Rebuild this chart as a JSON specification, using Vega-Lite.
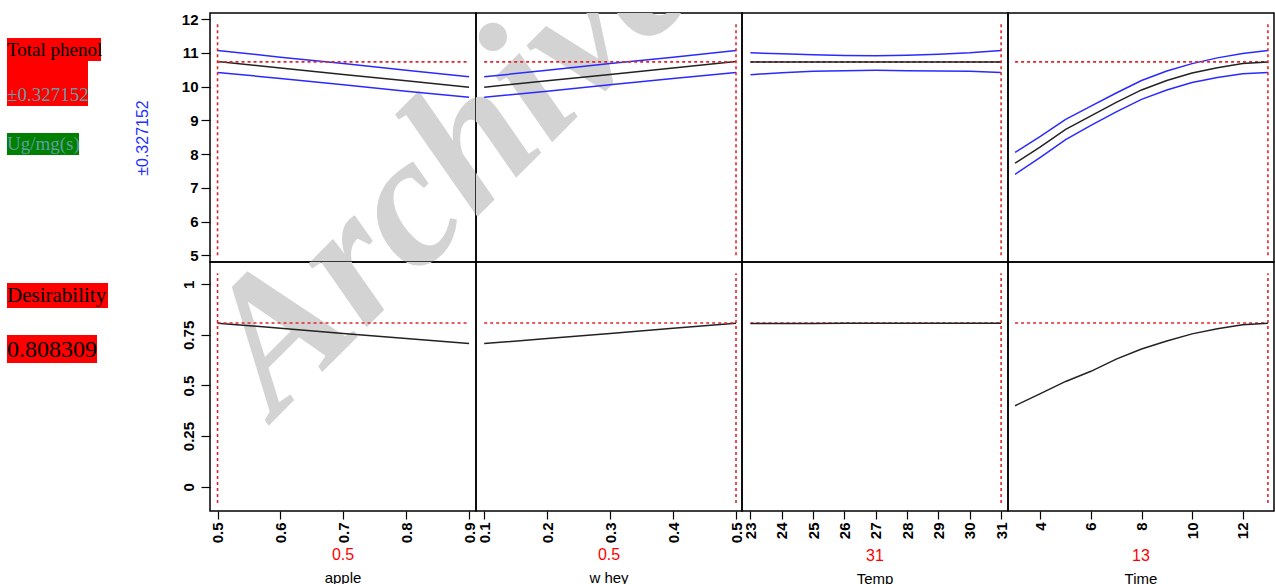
{
  "$schema": "https://vega.github.io/schema/vega-lite/v6.json",
  "padding": {"left": 0, "top": 11, "right": 0, "bottom": 0},
  "background": "white",
  "columns": 5,
  "spacing": 0,
  "bounds": "flush",
  "align": "each",
  "datasets": {
    "prof": [
      {"f": "apple", "lv": 0.5, "pr": 10.74, "lo": 10.42, "hi": 11.07, "d": 0.808},
      {"f": "apple", "lv": 0.6, "pr": 10.55, "lo": 10.24, "hi": 10.87, "d": 0.783},
      {"f": "apple", "lv": 0.7, "pr": 10.36, "lo": 10.05, "hi": 10.68, "d": 0.757},
      {"f": "apple", "lv": 0.8, "pr": 10.17, "lo": 9.86, "hi": 10.48, "d": 0.732},
      {"f": "apple", "lv": 0.9, "pr": 9.98, "lo": 9.68, "hi": 10.29, "d": 0.707},
      {"f": "whey", "lv": 0.1, "pr": 9.98, "lo": 9.68, "hi": 10.29, "d": 0.707},
      {"f": "whey", "lv": 0.2, "pr": 10.17, "lo": 9.86, "hi": 10.48, "d": 0.732},
      {"f": "whey", "lv": 0.3, "pr": 10.36, "lo": 10.05, "hi": 10.68, "d": 0.757},
      {"f": "whey", "lv": 0.4, "pr": 10.55, "lo": 10.24, "hi": 10.87, "d": 0.783},
      {"f": "whey", "lv": 0.5, "pr": 10.74, "lo": 10.42, "hi": 11.07, "d": 0.808},
      {"f": "Temp", "lv": 23, "pr": 10.73, "lo": 10.35, "hi": 11.0, "d": 0.806},
      {"f": "Temp", "lv": 24, "pr": 10.73, "lo": 10.41, "hi": 10.97, "d": 0.806},
      {"f": "Temp", "lv": 25, "pr": 10.73, "lo": 10.45, "hi": 10.94, "d": 0.806},
      {"f": "Temp", "lv": 26, "pr": 10.73, "lo": 10.47, "hi": 10.92, "d": 0.807},
      {"f": "Temp", "lv": 27, "pr": 10.73, "lo": 10.48, "hi": 10.91, "d": 0.807},
      {"f": "Temp", "lv": 28, "pr": 10.73, "lo": 10.47, "hi": 10.93, "d": 0.807},
      {"f": "Temp", "lv": 29, "pr": 10.73, "lo": 10.46, "hi": 10.96, "d": 0.808},
      {"f": "Temp", "lv": 30, "pr": 10.73, "lo": 10.45, "hi": 11.0, "d": 0.808},
      {"f": "Temp", "lv": 31, "pr": 10.73, "lo": 10.42, "hi": 11.07, "d": 0.808},
      {"f": "Time", "lv": 3, "pr": 7.73, "lo": 7.4, "hi": 8.05, "d": 0.4},
      {"f": "Time", "lv": 4, "pr": 8.21, "lo": 7.9, "hi": 8.52, "d": 0.46},
      {"f": "Time", "lv": 5, "pr": 8.73, "lo": 8.43, "hi": 9.03, "d": 0.52},
      {"f": "Time", "lv": 6, "pr": 9.13, "lo": 8.85, "hi": 9.42, "d": 0.57},
      {"f": "Time", "lv": 7, "pr": 9.53, "lo": 9.25, "hi": 9.81, "d": 0.63},
      {"f": "Time", "lv": 8, "pr": 9.9, "lo": 9.62, "hi": 10.18, "d": 0.68},
      {"f": "Time", "lv": 9, "pr": 10.18, "lo": 9.9, "hi": 10.46, "d": 0.72},
      {"f": "Time", "lv": 10, "pr": 10.4, "lo": 10.12, "hi": 10.68, "d": 0.755},
      {"f": "Time", "lv": 11, "pr": 10.56, "lo": 10.27, "hi": 10.85, "d": 0.78},
      {"f": "Time", "lv": 12, "pr": 10.68, "lo": 10.38, "hi": 10.98, "d": 0.8},
      {"f": "Time", "lv": 13, "pr": 10.73, "lo": 10.42, "hi": 11.07, "d": 0.808}
    ],
    "cur": [
      {"f": "apple", "lv": 0.5, "mn": 0.5, "mx": 0.9, "ph": 10.73, "d": 0.808309},
      {"f": "whey", "lv": 0.5, "mn": 0.1, "mx": 0.5, "ph": 10.73, "d": 0.808309},
      {"f": "Temp", "lv": 31, "mn": 23, "mx": 31, "ph": 10.73, "d": 0.808309},
      {"f": "Time", "lv": 13, "mn": 3, "mx": 13, "ph": 10.73, "d": 0.808309}
    ],
    "labels": [
      {"k": "resp", "label": "Total phenol"},
      {"k": "ci", "label": "±0.327152"},
      {"k": "unit", "label": "Ug/mg(s)"},
      {"k": "des", "label": "Desirability"},
      {"k": "desv", "label": "0.808309"}
    ],
    "wm": [{"w": "Archive"}]
  },
  "concat": [
    {
      "width": 210, "height": 249, "view": {"stroke": null},
      "layer": [
        {"data": {"name": "labels"}, "transform": [{"filter": "datum.k==='resp'"}], "mark": {"type": "rect", "color": "#ff0000"},
         "encoding": {"x": {"datum": 7, "type": "quantitative", "scale": {"domain": [0, 210], "nice": false, "zero": false}, "axis": null}, "x2": {"datum": 101},
                      "y": {"datum": 25, "type": "quantitative", "scale": {"domain": [0, 249], "reverse": true, "nice": false, "zero": false}, "axis": null}, "y2": {"datum": 48}}},
        {"data": {"name": "labels"}, "transform": [{"filter": "datum.k==='ci'"}], "mark": {"type": "rect", "color": "#ff0000"},
         "encoding": {"x": {"datum": 7, "type": "quantitative", "axis": null}, "x2": {"datum": 88}, "y": {"datum": 47, "type": "quantitative", "axis": null}, "y2": {"datum": 93}}},
        {"data": {"name": "labels"}, "transform": [{"filter": "datum.k==='unit'"}], "mark": {"type": "rect", "color": "#008000"},
         "encoding": {"x": {"datum": 7, "type": "quantitative", "axis": null}, "x2": {"datum": 79}, "y": {"datum": 120, "type": "quantitative", "axis": null}, "y2": {"datum": 142}}},
        {"data": {"name": "labels"}, "transform": [{"filter": "datum.k==='resp'"}], "mark": {"type": "text", "font": "Liberation Serif", "fontSize": 19, "color": "#000000", "align": "left", "baseline": "middle"},
         "encoding": {"text": {"field": "label"}, "x": {"datum": 7, "type": "quantitative", "axis": null}, "y": {"datum": 37, "type": "quantitative", "axis": null}}},
        {"data": {"name": "labels"}, "transform": [{"filter": "datum.k==='ci'"}], "mark": {"type": "text", "font": "Liberation Serif", "fontSize": 19, "color": "#5f9ea0", "align": "left", "baseline": "middle"},
         "encoding": {"text": {"field": "label"}, "x": {"datum": 7, "type": "quantitative", "axis": null}, "y": {"datum": 82, "type": "quantitative", "axis": null}}},
        {"data": {"name": "labels"}, "transform": [{"filter": "datum.k==='unit'"}], "mark": {"type": "text", "font": "Liberation Serif", "fontSize": 19, "color": "#5f9ea0", "align": "left", "baseline": "middle"},
         "encoding": {"text": {"field": "label"}, "x": {"datum": 7, "type": "quantitative", "axis": null}, "y": {"datum": 131, "type": "quantitative", "axis": null}}}
      ]
    },
    {
      "width": 266, "height": 249,
      "layer": [
        {"data": {"name": "wm"}, "mark": {"type": "text", "clip": true, "font": "Liberation Serif", "fontSize": 188, "fontStyle": "italic", "fontWeight": "bold", "color": "#d3d3d3", "angle": -45, "align": "center", "baseline": "middle"},
         "encoding": {"text": {"field": "w"}, "x": {"datum": 0.8696, "type": "quantitative", "axis": null},
                      "y": {"datum": 7.675, "type": "quantitative", "axis": {"values": [5, 6, 7, 8, 9, 10, 11, 12], "format": "d", "title": "±0.327152", "titleColor": "#1e32ff", "titleFontSize": 16, "titleFontWeight": "normal", "titlePadding": 31, "labelFontSize": 15, "labelFontWeight": "bold", "tickSize": 9, "labelPadding": 3, "labelOverlap": false}}}},
        {"data": {"name": "prof"}, "transform": [{"filter": "datum.f==='apple'"}], "mark": {"type": "line", "color": "#2a2aff", "strokeWidth": 1.5},
         "encoding": {"x": {"field": "lv", "type": "quantitative", "scale": {"domain": [0.488, 0.911], "nice": false, "zero": false}, "axis": null},
                      "y": {"field": "hi", "type": "quantitative", "scale": {"domain": [4.8, 12.18], "nice": false, "zero": false},
                            "axis": {"values": [5, 6, 7, 8, 9, 10, 11, 12], "format": "d", "title": "±0.327152", "titleColor": "#1e32ff", "titleFontSize": 16, "titleFontWeight": "normal", "titlePadding": 31, "labelFontSize": 15, "labelFontWeight": "bold", "tickSize": 9, "labelPadding": 3, "labelOverlap": false}}}},
        {"data": {"name": "prof"}, "transform": [{"filter": "datum.f==='apple'"}], "mark": {"type": "line", "color": "#2a2aff", "strokeWidth": 1.5},
         "encoding": {"x": {"field": "lv", "type": "quantitative", "axis": null},
                      "y": {"field": "lo", "type": "quantitative", "axis": {"values": [5, 6, 7, 8, 9, 10, 11, 12], "format": "d", "title": "±0.327152", "titleColor": "#1e32ff", "titleFontSize": 16, "titleFontWeight": "normal", "titlePadding": 31, "labelFontSize": 15, "labelFontWeight": "bold", "tickSize": 9, "labelPadding": 3, "labelOverlap": false}}}},
        {"data": {"name": "prof"}, "transform": [{"filter": "datum.f==='apple'"}], "mark": {"type": "line", "color": "#222222", "strokeWidth": 1.5},
         "encoding": {"x": {"field": "lv", "type": "quantitative", "axis": null},
                      "y": {"field": "pr", "type": "quantitative", "axis": {"values": [5, 6, 7, 8, 9, 10, 11, 12], "format": "d", "title": "±0.327152", "titleColor": "#1e32ff", "titleFontSize": 16, "titleFontWeight": "normal", "titlePadding": 31, "labelFontSize": 15, "labelFontWeight": "bold", "tickSize": 9, "labelPadding": 3, "labelOverlap": false}}}},
        {"data": {"name": "cur"}, "transform": [{"filter": "datum.f==='apple'"}], "mark": {"type": "rule", "color": "#e0262b", "strokeDash": [3, 3], "strokeWidth": 1.6},
         "encoding": {"x": {"field": "mn", "type": "quantitative", "axis": null}, "x2": {"field": "mx"},
                      "y": {"field": "ph", "type": "quantitative", "axis": {"values": [5, 6, 7, 8, 9, 10, 11, 12], "format": "d", "title": "±0.327152", "titleColor": "#1e32ff", "titleFontSize": 16, "titleFontWeight": "normal", "titlePadding": 31, "labelFontSize": 15, "labelFontWeight": "bold", "tickSize": 9, "labelPadding": 3, "labelOverlap": false}}}},
        {"data": {"name": "cur"}, "transform": [{"filter": "datum.f==='apple'"}], "mark": {"type": "rule", "color": "#e0262b", "strokeDash": [3, 3], "strokeWidth": 1.6},
         "encoding": {"x": {"field": "lv", "type": "quantitative", "axis": null},
                      "y": {"datum": 5.0, "type": "quantitative", "axis": {"values": [5, 6, 7, 8, 9, 10, 11, 12], "format": "d", "title": "±0.327152", "titleColor": "#1e32ff", "titleFontSize": 16, "titleFontWeight": "normal", "titlePadding": 31, "labelFontSize": 15, "labelFontWeight": "bold", "tickSize": 9, "labelPadding": 3, "labelOverlap": false}}, "y2": {"datum": 11.88}}}
      ]
    },
    {
      "width": 266, "height": 249,
      "layer": [
        {"data": {"name": "wm"}, "mark": {"type": "text", "clip": true, "font": "Liberation Serif", "fontSize": 188, "fontStyle": "italic", "fontWeight": "bold", "color": "#d3d3d3", "angle": -45, "align": "center", "baseline": "middle"},
         "encoding": {"text": {"field": "w"}, "x": {"datum": 0.0457, "type": "quantitative", "axis": null}, "y": {"datum": 7.675, "type": "quantitative", "axis": null}}},
        {"data": {"name": "prof"}, "transform": [{"filter": "datum.f==='whey'"}], "mark": {"type": "line", "color": "#2a2aff", "strokeWidth": 1.5},
         "encoding": {"x": {"field": "lv", "type": "quantitative", "scale": {"domain": [0.087, 0.5095], "nice": false, "zero": false}, "axis": null},
                      "y": {"field": "hi", "type": "quantitative", "scale": {"domain": [4.8, 12.18], "nice": false, "zero": false}, "axis": null}}},
        {"data": {"name": "prof"}, "transform": [{"filter": "datum.f==='whey'"}], "mark": {"type": "line", "color": "#2a2aff", "strokeWidth": 1.5},
         "encoding": {"x": {"field": "lv", "type": "quantitative", "axis": null}, "y": {"field": "lo", "type": "quantitative", "axis": null}}},
        {"data": {"name": "prof"}, "transform": [{"filter": "datum.f==='whey'"}], "mark": {"type": "line", "color": "#222222", "strokeWidth": 1.5},
         "encoding": {"x": {"field": "lv", "type": "quantitative", "axis": null}, "y": {"field": "pr", "type": "quantitative", "axis": null}}},
        {"data": {"name": "cur"}, "transform": [{"filter": "datum.f==='whey'"}], "mark": {"type": "rule", "color": "#e0262b", "strokeDash": [3, 3], "strokeWidth": 1.6},
         "encoding": {"x": {"field": "mn", "type": "quantitative", "axis": null}, "x2": {"field": "mx"}, "y": {"field": "ph", "type": "quantitative", "axis": null}}},
        {"data": {"name": "cur"}, "transform": [{"filter": "datum.f==='whey'"}], "mark": {"type": "rule", "color": "#e0262b", "strokeDash": [3, 3], "strokeWidth": 1.6},
         "encoding": {"x": {"field": "lv", "type": "quantitative", "axis": null}, "y": {"datum": 5.0, "type": "quantitative", "axis": null}, "y2": {"datum": 11.88}}}
      ]
    },
    {
      "width": 266, "height": 249,
      "layer": [
        {"data": {"name": "prof"}, "transform": [{"filter": "datum.f==='Temp'"}], "mark": {"type": "line", "color": "#2a2aff", "strokeWidth": 1.5},
         "encoding": {"x": {"field": "lv", "type": "quantitative", "scale": {"domain": [22.73, 31.22], "nice": false, "zero": false}, "axis": null},
                      "y": {"field": "hi", "type": "quantitative", "scale": {"domain": [4.8, 12.18], "nice": false, "zero": false}, "axis": null}}},
        {"data": {"name": "prof"}, "transform": [{"filter": "datum.f==='Temp'"}], "mark": {"type": "line", "color": "#2a2aff", "strokeWidth": 1.5},
         "encoding": {"x": {"field": "lv", "type": "quantitative", "axis": null}, "y": {"field": "lo", "type": "quantitative", "axis": null}}},
        {"data": {"name": "cur"}, "transform": [{"filter": "datum.f==='Temp'"}], "mark": {"type": "rule", "color": "#e0262b", "strokeDash": [3, 3], "strokeWidth": 1.6},
         "encoding": {"x": {"field": "mn", "type": "quantitative", "axis": null}, "x2": {"field": "mx"}, "y": {"field": "ph", "type": "quantitative", "axis": null}}},
        {"data": {"name": "prof"}, "transform": [{"filter": "datum.f==='Temp'"}], "mark": {"type": "line", "color": "#222222", "strokeWidth": 1.5},
         "encoding": {"x": {"field": "lv", "type": "quantitative", "axis": null}, "y": {"field": "pr", "type": "quantitative", "axis": null}}},
        {"data": {"name": "cur"}, "transform": [{"filter": "datum.f==='Temp'"}], "mark": {"type": "rule", "color": "#e0262b", "strokeDash": [3, 3], "strokeWidth": 1.6},
         "encoding": {"x": {"field": "lv", "type": "quantitative", "axis": null}, "y": {"datum": 5.0, "type": "quantitative", "axis": null}, "y2": {"datum": 11.88}}}
      ]
    },
    {
      "width": 266, "height": 249,
      "layer": [
        {"data": {"name": "prof"}, "transform": [{"filter": "datum.f==='Time'"}], "mark": {"type": "line", "color": "#2a2aff", "strokeWidth": 1.5},
         "encoding": {"x": {"field": "lv", "type": "quantitative", "scale": {"domain": [2.72, 13.24], "nice": false, "zero": false}, "axis": null},
                      "y": {"field": "hi", "type": "quantitative", "scale": {"domain": [4.8, 12.18], "nice": false, "zero": false}, "axis": null}}},
        {"data": {"name": "prof"}, "transform": [{"filter": "datum.f==='Time'"}], "mark": {"type": "line", "color": "#2a2aff", "strokeWidth": 1.5},
         "encoding": {"x": {"field": "lv", "type": "quantitative", "axis": null}, "y": {"field": "lo", "type": "quantitative", "axis": null}}},
        {"data": {"name": "cur"}, "transform": [{"filter": "datum.f==='Time'"}], "mark": {"type": "rule", "color": "#e0262b", "strokeDash": [3, 3], "strokeWidth": 1.6},
         "encoding": {"x": {"field": "mn", "type": "quantitative", "axis": null}, "x2": {"field": "mx"}, "y": {"field": "ph", "type": "quantitative", "axis": null}}},
        {"data": {"name": "prof"}, "transform": [{"filter": "datum.f==='Time'"}], "mark": {"type": "line", "color": "#222222", "strokeWidth": 1.5},
         "encoding": {"x": {"field": "lv", "type": "quantitative", "axis": null}, "y": {"field": "pr", "type": "quantitative", "axis": null}}},
        {"data": {"name": "cur"}, "transform": [{"filter": "datum.f==='Time'"}], "mark": {"type": "rule", "color": "#e0262b", "strokeDash": [3, 3], "strokeWidth": 1.6},
         "encoding": {"x": {"field": "lv", "type": "quantitative", "axis": null}, "y": {"datum": 5.0, "type": "quantitative", "axis": null}, "y2": {"datum": 11.88}}}
      ]
    },
    {
      "width": 210, "height": 249, "view": {"stroke": null},
      "layer": [
        {"data": {"name": "labels"}, "transform": [{"filter": "datum.k==='des'"}], "mark": {"type": "rect", "color": "#ff0000"},
         "encoding": {"x": {"datum": 7, "type": "quantitative", "scale": {"domain": [0, 210], "nice": false, "zero": false}, "axis": null}, "x2": {"datum": 108},
                      "y": {"datum": 21, "type": "quantitative", "scale": {"domain": [0, 249], "reverse": true, "nice": false, "zero": false}, "axis": null}, "y2": {"datum": 46}}},
        {"data": {"name": "labels"}, "transform": [{"filter": "datum.k==='desv'"}], "mark": {"type": "rect", "color": "#ff0000"},
         "encoding": {"x": {"datum": 7, "type": "quantitative", "axis": null}, "x2": {"datum": 97}, "y": {"datum": 73, "type": "quantitative", "axis": null}, "y2": {"datum": 101}}},
        {"data": {"name": "labels"}, "transform": [{"filter": "datum.k==='des'"}], "mark": {"type": "text", "font": "Liberation Serif", "fontSize": 21, "color": "#000000", "align": "left", "baseline": "middle"},
         "encoding": {"text": {"field": "label"}, "x": {"datum": 7, "type": "quantitative", "axis": null}, "y": {"datum": 34, "type": "quantitative", "axis": null}}},
        {"data": {"name": "labels"}, "transform": [{"filter": "datum.k==='desv'"}], "mark": {"type": "text", "font": "Liberation Serif", "fontSize": 24, "color": "#000000", "align": "left", "baseline": "middle"},
         "encoding": {"text": {"field": "label"}, "x": {"datum": 7, "type": "quantitative", "axis": null}, "y": {"datum": 88, "type": "quantitative", "axis": null}}}
      ]
    },
    {
      "width": 266, "height": 249,
      "title": {"text": "0.5", "subtitle": "apple", "orient": "bottom", "anchor": "middle", "color": "#ff0000", "font": "Liberation Sans", "fontSize": 16, "fontWeight": "normal", "subtitleColor": "#000000", "subtitleFont": "Liberation Sans", "subtitleFontSize": 15, "offset": 4, "subtitlePadding": 8},
      "layer": [
        {"data": {"name": "wm"}, "mark": {"type": "text", "clip": true, "font": "Liberation Serif", "fontSize": 188, "fontStyle": "italic", "fontWeight": "bold", "color": "#d3d3d3", "angle": -45, "align": "center", "baseline": "middle"},
         "encoding": {"text": {"field": "w"},
                      "x": {"datum": 0.8696, "type": "quantitative", "axis": {"values": [0.5, 0.6, 0.7, 0.8, 0.9], "format": ".1f", "title": null, "labelAngle": -90, "labelFontSize": 15, "labelFontWeight": "bold", "tickSize": 8, "labelPadding": 3, "labelFlush": false, "labelOverlap": false, "labelBound": false}},
                      "y": {"datum": 1.589, "type": "quantitative", "axis": {"values": [0, 0.25, 0.5, 0.75, 1], "labelExpr": "'' + datum.value", "title": null, "labelAngle": -90, "labelFontSize": 15, "labelFontWeight": "bold", "tickSize": 9, "labelPadding": 5, "labelOverlap": false, "labelFlush": false}}}},
        {"data": {"name": "prof"}, "transform": [{"filter": "datum.f==='apple'"}], "mark": {"type": "line", "color": "#222222", "strokeWidth": 1.5},
         "encoding": {"x": {"field": "lv", "type": "quantitative", "scale": {"domain": [0.488, 0.911], "nice": false, "zero": false},
                            "axis": {"values": [0.5, 0.6, 0.7, 0.8, 0.9], "format": ".1f", "title": null, "labelAngle": -90, "labelFontSize": 15, "labelFontWeight": "bold", "tickSize": 8, "labelPadding": 3, "labelFlush": false, "labelOverlap": false, "labelBound": false}},
                      "y": {"field": "d", "type": "quantitative", "scale": {"domain": [-0.12, 1.11], "nice": false, "zero": false},
                            "axis": {"values": [0, 0.25, 0.5, 0.75, 1], "labelExpr": "'' + datum.value", "title": null, "labelAngle": -90, "labelFontSize": 15, "labelFontWeight": "bold", "tickSize": 9, "labelPadding": 5, "labelOverlap": false, "labelFlush": false}}}},
        {"data": {"name": "cur"}, "transform": [{"filter": "datum.f==='apple'"}], "mark": {"type": "rule", "color": "#e0262b", "strokeDash": [3, 3], "strokeWidth": 1.6},
         "encoding": {"x": {"field": "mn", "type": "quantitative", "axis": {"values": [0.5, 0.6, 0.7, 0.8, 0.9], "format": ".1f", "title": null, "labelAngle": -90, "labelFontSize": 15, "labelFontWeight": "bold", "tickSize": 8, "labelPadding": 3, "labelFlush": false, "labelOverlap": false, "labelBound": false}},
                      "x2": {"field": "mx"},
                      "y": {"field": "d", "type": "quantitative", "axis": {"values": [0, 0.25, 0.5, 0.75, 1], "labelExpr": "'' + datum.value", "title": null, "labelAngle": -90, "labelFontSize": 15, "labelFontWeight": "bold", "tickSize": 9, "labelPadding": 5, "labelOverlap": false, "labelFlush": false}}}},
        {"data": {"name": "cur"}, "transform": [{"filter": "datum.f==='apple'"}], "mark": {"type": "rule", "color": "#e0262b", "strokeDash": [3, 3], "strokeWidth": 1.6},
         "encoding": {"x": {"field": "lv", "type": "quantitative", "axis": {"values": [0.5, 0.6, 0.7, 0.8, 0.9], "format": ".1f", "title": null, "labelAngle": -90, "labelFontSize": 15, "labelFontWeight": "bold", "tickSize": 8, "labelPadding": 3, "labelFlush": false, "labelOverlap": false, "labelBound": false}},
                      "y": {"datum": -0.08, "type": "quantitative", "axis": {"values": [0, 0.25, 0.5, 0.75, 1], "labelExpr": "'' + datum.value", "title": null, "labelAngle": -90, "labelFontSize": 15, "labelFontWeight": "bold", "tickSize": 9, "labelPadding": 5, "labelOverlap": false, "labelFlush": false}},
                      "y2": {"datum": 1.055}}}
      ]
    },
    {
      "width": 266, "height": 249,
      "title": {"text": "0.5", "subtitle": "w hey", "orient": "bottom", "anchor": "middle", "color": "#ff0000", "font": "Liberation Sans", "fontSize": 16, "fontWeight": "normal", "subtitleColor": "#000000", "subtitleFont": "Liberation Sans", "subtitleFontSize": 15, "offset": 4, "subtitlePadding": 8},
      "layer": [
        {"data": {"name": "wm"}, "mark": {"type": "text", "clip": true, "font": "Liberation Serif", "fontSize": 188, "fontStyle": "italic", "fontWeight": "bold", "color": "#d3d3d3", "angle": -45, "align": "center", "baseline": "middle"},
         "encoding": {"text": {"field": "w"},
                      "x": {"datum": 0.0457, "type": "quantitative", "axis": {"values": [0.1, 0.2, 0.3, 0.4, 0.5], "format": ".1f", "title": null, "labelAngle": -90, "labelFontSize": 15, "labelFontWeight": "bold", "tickSize": 8, "labelPadding": 3, "labelFlush": false, "labelOverlap": false, "labelBound": false}},
                      "y": {"datum": 1.589, "type": "quantitative", "axis": null}}},
        {"data": {"name": "prof"}, "transform": [{"filter": "datum.f==='whey'"}], "mark": {"type": "line", "color": "#222222", "strokeWidth": 1.5},
         "encoding": {"x": {"field": "lv", "type": "quantitative", "scale": {"domain": [0.087, 0.5095], "nice": false, "zero": false},
                            "axis": {"values": [0.1, 0.2, 0.3, 0.4, 0.5], "format": ".1f", "title": null, "labelAngle": -90, "labelFontSize": 15, "labelFontWeight": "bold", "tickSize": 8, "labelPadding": 3, "labelFlush": false, "labelOverlap": false, "labelBound": false}},
                      "y": {"field": "d", "type": "quantitative", "scale": {"domain": [-0.12, 1.11], "nice": false, "zero": false}, "axis": null}}},
        {"data": {"name": "cur"}, "transform": [{"filter": "datum.f==='whey'"}], "mark": {"type": "rule", "color": "#e0262b", "strokeDash": [3, 3], "strokeWidth": 1.6},
         "encoding": {"x": {"field": "mn", "type": "quantitative", "axis": {"values": [0.1, 0.2, 0.3, 0.4, 0.5], "format": ".1f", "title": null, "labelAngle": -90, "labelFontSize": 15, "labelFontWeight": "bold", "tickSize": 8, "labelPadding": 3, "labelFlush": false, "labelOverlap": false, "labelBound": false}},
                      "x2": {"field": "mx"}, "y": {"field": "d", "type": "quantitative", "axis": null}}},
        {"data": {"name": "cur"}, "transform": [{"filter": "datum.f==='whey'"}], "mark": {"type": "rule", "color": "#e0262b", "strokeDash": [3, 3], "strokeWidth": 1.6},
         "encoding": {"x": {"field": "lv", "type": "quantitative", "axis": {"values": [0.1, 0.2, 0.3, 0.4, 0.5], "format": ".1f", "title": null, "labelAngle": -90, "labelFontSize": 15, "labelFontWeight": "bold", "tickSize": 8, "labelPadding": 3, "labelFlush": false, "labelOverlap": false, "labelBound": false}},
                      "y": {"datum": -0.08, "type": "quantitative", "axis": null}, "y2": {"datum": 1.055}}}
      ]
    },
    {
      "width": 266, "height": 249,
      "title": {"text": "31", "subtitle": "Temp", "orient": "bottom", "anchor": "middle", "color": "#ff0000", "font": "Liberation Sans", "fontSize": 16, "fontWeight": "normal", "subtitleColor": "#000000", "subtitleFont": "Liberation Sans", "subtitleFontSize": 15, "offset": 9, "subtitlePadding": 8},
      "layer": [
        {"data": {"name": "cur"}, "transform": [{"filter": "datum.f==='Temp'"}], "mark": {"type": "rule", "color": "#e0262b", "strokeDash": [3, 3], "strokeWidth": 1.6},
         "encoding": {"x": {"field": "mn", "type": "quantitative", "scale": {"domain": [22.73, 31.22], "nice": false, "zero": false},
                            "axis": {"values": [23, 24, 25, 26, 27, 28, 29, 30, 31], "format": "d", "title": null, "labelAngle": -90, "labelFontSize": 15, "labelFontWeight": "bold", "tickSize": 8, "labelPadding": 3, "labelFlush": false, "labelOverlap": false, "labelBound": false}},
                      "x2": {"field": "mx"},
                      "y": {"field": "d", "type": "quantitative", "scale": {"domain": [-0.12, 1.11], "nice": false, "zero": false}, "axis": null}}},
        {"data": {"name": "prof"}, "transform": [{"filter": "datum.f==='Temp'"}], "mark": {"type": "line", "color": "#222222", "strokeWidth": 1.5},
         "encoding": {"x": {"field": "lv", "type": "quantitative", "axis": {"values": [23, 24, 25, 26, 27, 28, 29, 30, 31], "format": "d", "title": null, "labelAngle": -90, "labelFontSize": 15, "labelFontWeight": "bold", "tickSize": 8, "labelPadding": 3, "labelFlush": false, "labelOverlap": false, "labelBound": false}},
                      "y": {"field": "d", "type": "quantitative", "axis": null}}},
        {"data": {"name": "cur"}, "transform": [{"filter": "datum.f==='Temp'"}], "mark": {"type": "rule", "color": "#e0262b", "strokeDash": [3, 3], "strokeWidth": 1.6},
         "encoding": {"x": {"field": "lv", "type": "quantitative", "axis": {"values": [23, 24, 25, 26, 27, 28, 29, 30, 31], "format": "d", "title": null, "labelAngle": -90, "labelFontSize": 15, "labelFontWeight": "bold", "tickSize": 8, "labelPadding": 3, "labelFlush": false, "labelOverlap": false, "labelBound": false}},
                      "y": {"datum": -0.08, "type": "quantitative", "axis": null}, "y2": {"datum": 1.055}}}
      ]
    },
    {
      "width": 266, "height": 249,
      "title": {"text": "13", "subtitle": "Time", "orient": "bottom", "anchor": "middle", "color": "#ff0000", "font": "Liberation Sans", "fontSize": 16, "fontWeight": "normal", "subtitleColor": "#000000", "subtitleFont": "Liberation Sans", "subtitleFontSize": 15, "offset": 9, "subtitlePadding": 8},
      "layer": [
        {"data": {"name": "cur"}, "transform": [{"filter": "datum.f==='Time'"}], "mark": {"type": "rule", "color": "#e0262b", "strokeDash": [3, 3], "strokeWidth": 1.6},
         "encoding": {"x": {"field": "mn", "type": "quantitative", "scale": {"domain": [2.72, 13.24], "nice": false, "zero": false},
                            "axis": {"values": [4, 6, 8, 10, 12], "format": "d", "title": null, "labelAngle": -90, "labelFontSize": 15, "labelFontWeight": "bold", "tickSize": 8, "labelPadding": 3, "labelFlush": false, "labelOverlap": false, "labelBound": false}},
                      "x2": {"field": "mx"},
                      "y": {"field": "d", "type": "quantitative", "scale": {"domain": [-0.12, 1.11], "nice": false, "zero": false}, "axis": null}}},
        {"data": {"name": "prof"}, "transform": [{"filter": "datum.f==='Time'"}], "mark": {"type": "line", "color": "#222222", "strokeWidth": 1.5},
         "encoding": {"x": {"field": "lv", "type": "quantitative", "axis": {"values": [4, 6, 8, 10, 12], "format": "d", "title": null, "labelAngle": -90, "labelFontSize": 15, "labelFontWeight": "bold", "tickSize": 8, "labelPadding": 3, "labelFlush": false, "labelOverlap": false, "labelBound": false}},
                      "y": {"field": "d", "type": "quantitative", "axis": null}}},
        {"data": {"name": "cur"}, "transform": [{"filter": "datum.f==='Time'"}], "mark": {"type": "rule", "color": "#e0262b", "strokeDash": [3, 3], "strokeWidth": 1.6},
         "encoding": {"x": {"field": "lv", "type": "quantitative", "axis": {"values": [4, 6, 8, 10, 12], "format": "d", "title": null, "labelAngle": -90, "labelFontSize": 15, "labelFontWeight": "bold", "tickSize": 8, "labelPadding": 3, "labelFlush": false, "labelOverlap": false, "labelBound": false}},
                      "y": {"datum": -0.08, "type": "quantitative", "axis": null}, "y2": {"datum": 1.055}}}
      ]
    }
  ],
  "config": {
    "view": {"stroke": "#000000", "strokeWidth": 1.5},
    "axis": {"domain": false, "grid": false, "tickColor": "#000000", "tickWidth": 1.2, "labelColor": "#000000", "labelFont": "Liberation Sans", "titleFont": "Liberation Sans"},
    "title": {"font": "Liberation Sans"}
  }
}
